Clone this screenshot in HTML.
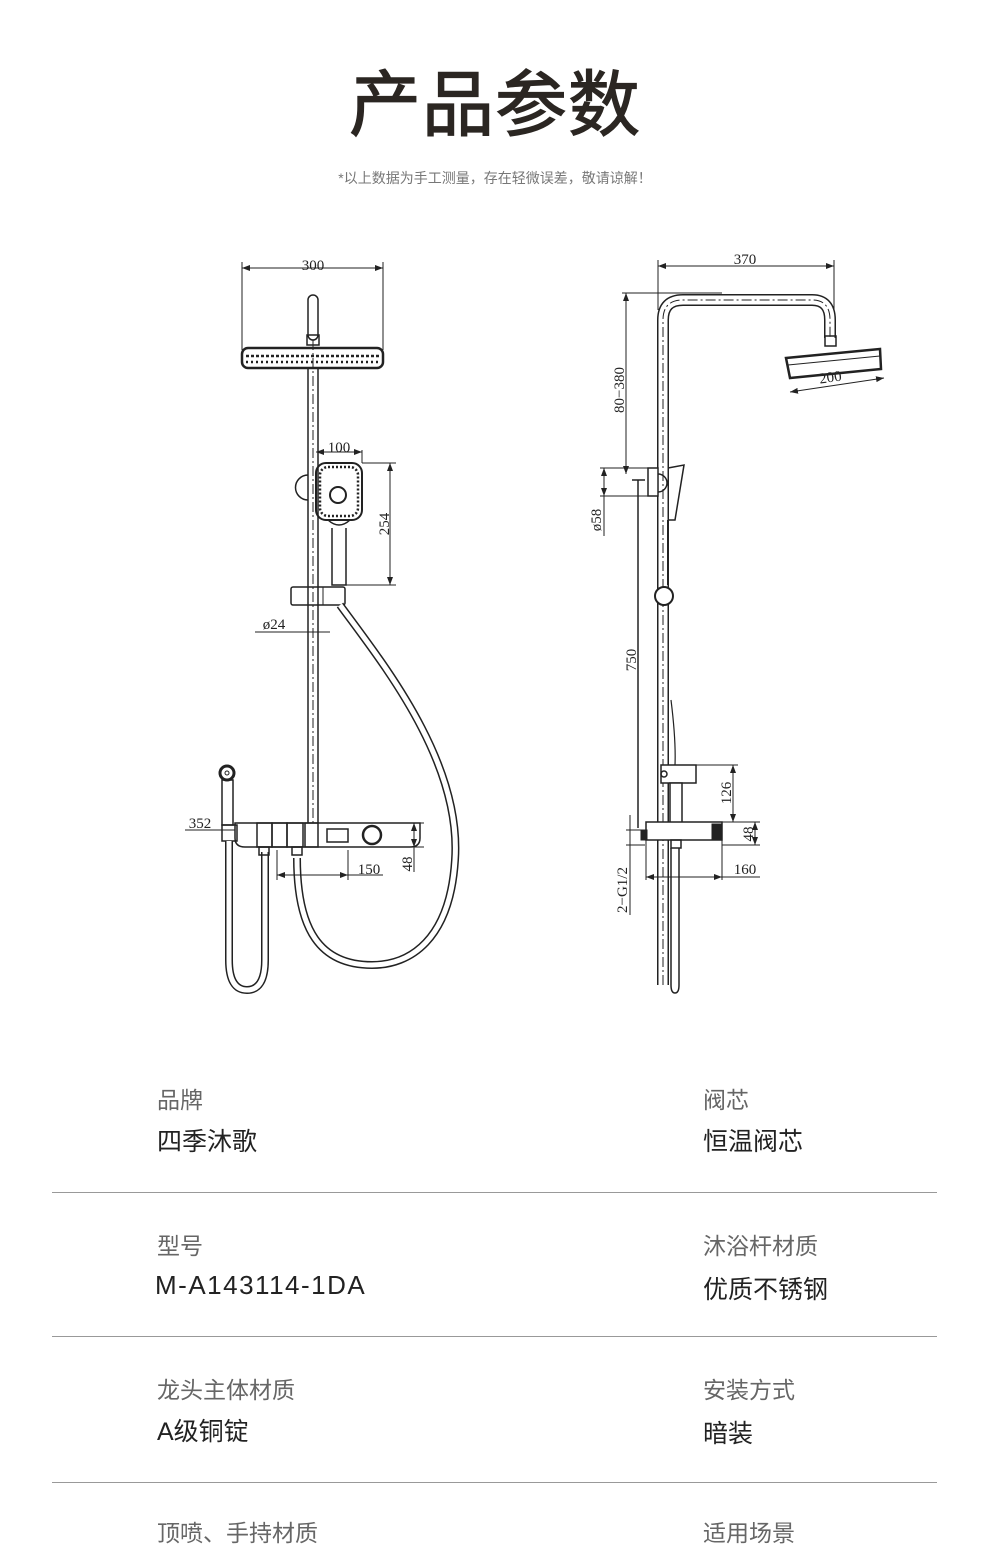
<!DOCTYPE html>
<html><head><meta charset="utf-8"><style>
html,body{margin:0;padding:0;background:#fff;}
body{width:990px;height:1533px;position:relative;overflow:hidden;font-family:"Liberation Sans","Noto Sans CJK SC",sans-serif;}
.t{position:absolute;white-space:nowrap;}
.lab{font-size:23px;color:#666;}
.val{font-size:25px;color:#222;}
.hr{position:absolute;left:52px;width:885px;height:1px;background:#999;}
</style></head><body>
<div class="t" style="left:0;width:990px;text-align:center;top:46px;font-size:72px;color:#2b2622;letter-spacing:1px;-webkit-text-stroke:1.2px #2b2622;">产品参数</div>
<div class="t" style="left:0;width:990px;text-align:center;top:168px;font-size:14px;color:#777;">*以上数据为手工测量，存在轻微误差，敬请谅解！</div>

<svg style="position:absolute;left:0;top:0" width="990" height="1050" viewBox="0 0 990 1050" font-family="Liberation Serif, serif" font-size="15" fill="none" stroke="#222">
<defs><marker id="a" markerWidth="8" markerHeight="6" refX="8" refY="3" orient="auto-start-reverse"><path d="M0,0 L8,3 L0,6z" fill="#222" stroke="none"/></marker></defs>
<g stroke-width="1">
<line x1="242" y1="268" x2="383" y2="268" marker-start="url(#a)" marker-end="url(#a)"/>
<line x1="242" y1="262" x2="242" y2="350"/><line x1="383" y1="262" x2="383" y2="350"/>
<rect x="308" y="295" width="10" height="45" rx="5" stroke-width="1.5"/>
<rect x="307" y="335" width="12" height="10" stroke-width="1.5"/>
<rect x="242" y="348" width="141" height="20" rx="6" stroke-width="2.5"/>
<line x1="246" y1="356" x2="379" y2="356" stroke-dasharray="3 2" stroke-width="2.5"/>
<line x1="246" y1="362" x2="379" y2="362" stroke-dasharray="2 3" stroke-width="2.5"/>
<line x1="308" y1="368" x2="308" y2="823" stroke-width="1.5"/><line x1="318" y1="368" x2="318" y2="823" stroke-width="1.5"/>
<line x1="313" y1="340" x2="313" y2="823" stroke-dasharray="10 3 2 3"/>
<path d="M308 475 A12 12 0 0 0 308 500" stroke-width="1.5"/>
<rect x="316" y="463" width="46" height="57" rx="10" stroke-width="2"/>
<rect x="320" y="467" width="38" height="49" rx="8" stroke-dasharray="2 2" stroke-width="2.5"/>
<circle cx="338" cy="495" r="8" stroke-width="2"/>
<path d="M328 520 Q339 530 350 520 M332 528 L332 585 L346 585 L346 528" stroke-width="1.5"/>
<line x1="316" y1="452" x2="362" y2="452" marker-start="url(#a)" marker-end="url(#a)"/>
<line x1="362" y1="450" x2="362" y2="463"/>
<line x1="362" y1="463" x2="396" y2="463"/><line x1="346" y1="585" x2="396" y2="585"/>
<line x1="390" y1="463" x2="390" y2="585" marker-start="url(#a)" marker-end="url(#a)"/>
<rect x="291" y="587" width="54" height="18" rx="2" stroke-width="1.5"/>
<line x1="323" y1="587" x2="323" y2="605"/>
<line x1="255" y1="632" x2="330" y2="632"/>
<path d="M340 605 C 380 660, 462 760, 455 860 C 450 940, 410 965, 372 965 C 320 965, 297 930, 297 858" stroke-width="8" stroke="#222"/>
<path d="M340 605 C 380 660, 462 760, 455 860 C 450 940, 410 965, 372 965 C 320 965, 297 930, 297 858" stroke-width="5" stroke="#fff"/>
<path d="M235 823 H420 V838 Q420 847 410 847 H245 Q235 847 235 838Z" stroke-width="1.5" fill="#fff"/>
<rect x="257" y="823" width="15" height="24" stroke-width="1.5"/><rect x="272" y="823" width="15" height="24" stroke-width="1.5"/>
<rect x="287" y="823" width="16" height="24" stroke-width="1.5"/><rect x="305" y="823" width="13" height="24" stroke-width="1.5"/>
<rect x="327" y="829" width="21" height="13" stroke-width="1.5"/>
<circle cx="372" cy="835" r="9" stroke-width="2.5"/>
<circle cx="227" cy="773" r="7" stroke-width="3"/><circle cx="227" cy="773" r="2"/>
<rect x="222" y="780" width="11" height="45" stroke-width="1.5"/>
<rect x="222" y="825" width="15" height="16" stroke-width="1.5"/>
<path d="M229 841 V960 Q229 990 247 990 Q265 990 265 960 V852" stroke-width="8"/>
<path d="M229 841 V960 Q229 990 247 990 Q265 990 265 960 V852" stroke-width="5" stroke="#fff"/>
<rect x="259" y="847" width="10" height="8" stroke-width="1.5"/><rect x="292" y="847" width="10" height="8" stroke-width="1.5"/>
<line x1="185" y1="830" x2="235" y2="830"/>
<line x1="277" y1="850" x2="277" y2="880"/><line x1="348" y1="850" x2="348" y2="880"/>
<line x1="277" y1="875" x2="348" y2="875" marker-start="url(#a)" marker-end="url(#a)"/><line x1="348" y1="875" x2="383" y2="875"/>
<line x1="420" y1="823" x2="424" y2="823"/><line x1="410" y1="847" x2="424" y2="847"/>
<line x1="414" y1="823" x2="414" y2="847" marker-start="url(#a)" marker-end="url(#a)"/>
<line x1="414" y1="847" x2="414" y2="872"/>
<line x1="658" y1="266" x2="834" y2="266" marker-start="url(#a)" marker-end="url(#a)"/>
<line x1="658" y1="260" x2="658" y2="310"/><line x1="834" y1="260" x2="834" y2="330"/>
<path d="M663 985 V320 Q663 300 683 300 H812 Q830 300 830 320 V338" stroke-width="12"/>
<path d="M663 985 V320 Q663 300 683 300 H812 Q830 300 830 320 V338" stroke-width="9" stroke="#fff"/>
<path d="M663 985 V320 Q663 300 683 300 H812 Q830 300 830 320 V338" stroke-dasharray="10 3 2 3"/>
<rect x="825" y="336" width="11" height="10" stroke-width="1.5"/>
<polygon points="786,358 880,349 881,369 790,378" stroke-width="2.5"/>
<line x1="788" y1="365" x2="880" y2="356"/>
<line x1="790" y1="392" x2="884" y2="378" marker-start="url(#a)" marker-end="url(#a)"/>
<line x1="622" y1="293" x2="722" y2="293"/>
<line x1="626" y1="293" x2="626" y2="474" marker-start="url(#a)" marker-end="url(#a)"/>
<line x1="600" y1="468" x2="655" y2="468"/><line x1="600" y1="496" x2="655" y2="496"/>
<line x1="604" y1="468" x2="604" y2="496" marker-start="url(#a)" marker-end="url(#a)"/>
<line x1="604" y1="496" x2="604" y2="536"/>
<rect x="648" y="468" width="10" height="28" stroke-width="1.5" fill="#fff"/>
<path d="M658 474 A9 9 0 0 1 658 492" stroke-width="1.5"/>
<path d="M668 468 L684 465 L675 520 L668 520" stroke-width="1.5"/>
<path d="M632 480 H645 M638 480 V828" stroke-width="1.5"/>
<path d="M668 520 V585" stroke-width="2"/>
<circle cx="664" cy="596" r="9" stroke-width="2" fill="#fff"/>
<path d="M671 700 Q676 740 675 765" stroke-width="1.2"/>
<rect x="661" y="765" width="35" height="18" stroke-width="1.5" fill="#fff"/>
<circle cx="664" cy="774" r="3" stroke-width="1.5"/>
<rect x="670" y="783" width="12" height="40" stroke-width="1.5" fill="#fff"/>
<line x1="696" y1="765" x2="738" y2="765"/><line x1="733" y1="765" x2="733" y2="822" marker-start="url(#a)" marker-end="url(#a)"/>
<rect x="646" y="822" width="76" height="18" stroke-width="1.5" fill="#fff"/>
<rect x="712" y="824" width="9" height="16" fill="#222"/>
<rect x="641" y="830" width="6" height="10" fill="#222"/>
<rect x="671" y="840" width="10" height="8" stroke-width="1.5"/>
<line x1="722" y1="822" x2="760" y2="822"/><line x1="722" y1="845" x2="760" y2="845"/>
<line x1="755" y1="822" x2="755" y2="845" marker-start="url(#a)" marker-end="url(#a)"/>
<line x1="646" y1="840" x2="646" y2="880"/><line x1="722" y1="840" x2="722" y2="880"/>
<line x1="646" y1="877" x2="722" y2="877" marker-start="url(#a)" marker-end="url(#a)"/><line x1="722" y1="877" x2="760" y2="877"/>
<line x1="630" y1="815" x2="630" y2="915"/><line x1="626" y1="830" x2="645" y2="830"/><line x1="626" y1="845" x2="645" y2="845"/>
<path d="M671 848 V985 Q671 993 675 993 Q679 993 679 985 V848" stroke-width="1.5"/>
</g>
<g fill="#222" stroke="none">
<text x="313" y="270" text-anchor="middle">300</text>
<text x="339" y="452" text-anchor="middle">100</text>
<text transform="translate(389,524) rotate(-90)" text-anchor="middle">254</text>
<text x="274" y="629" text-anchor="middle">ø24</text>
<text x="200" y="828" text-anchor="middle">352</text>
<text x="369" y="874" text-anchor="middle">150</text>
<text transform="translate(412,864) rotate(-90)" text-anchor="middle">48</text>
<text x="745" y="264" text-anchor="middle">370</text>
<text transform="translate(831,382) rotate(-8)" text-anchor="middle">200</text>
<text transform="translate(624,390) rotate(-90)" text-anchor="middle">80−380</text>
<text transform="translate(601,520) rotate(-90)" text-anchor="middle">ø58</text>
<text transform="translate(636,660) rotate(-90)" text-anchor="middle">750</text>
<text transform="translate(731,793) rotate(-90)" text-anchor="middle">126</text>
<text transform="translate(753,834) rotate(-90)" text-anchor="middle">48</text>
<text x="745" y="874" text-anchor="middle">160</text>
<text transform="translate(627,890) rotate(-90)" text-anchor="middle">2−G1/2</text>
</g>
</svg>

<div class="t lab" style="left:157px;top:1081px;">品牌</div>
<div class="t val" style="left:157px;top:1122px;">四季沐歌</div>
<div class="t lab" style="left:703px;top:1081px;">阀芯</div>
<div class="t val" style="left:703px;top:1122px;">恒温阀芯</div>
<div class="hr" style="top:1192px;"></div>
<div class="t lab" style="left:157px;top:1227px;">型号</div>
<div class="t val" style="left:155px;top:1270px;font-size:26px;letter-spacing:1.5px;">M-A143114-1DA</div>
<div class="t lab" style="left:703px;top:1227px;">沐浴杆材质</div>
<div class="t val" style="left:703px;top:1270px;">优质不锈钢</div>
<div class="hr" style="top:1336px;"></div>
<div class="t lab" style="left:157px;top:1371px;">龙头主体材质</div>
<div class="t val" style="left:157px;top:1412px;">A级铜锭</div>
<div class="t lab" style="left:703px;top:1371px;">安装方式</div>
<div class="t val" style="left:703px;top:1414px;">暗装</div>
<div class="hr" style="top:1482px;"></div>
<div class="t lab" style="left:157px;top:1514px;">顶喷、手持材质</div>
<div class="t lab" style="left:703px;top:1514px;">适用场景</div>
</body></html>
